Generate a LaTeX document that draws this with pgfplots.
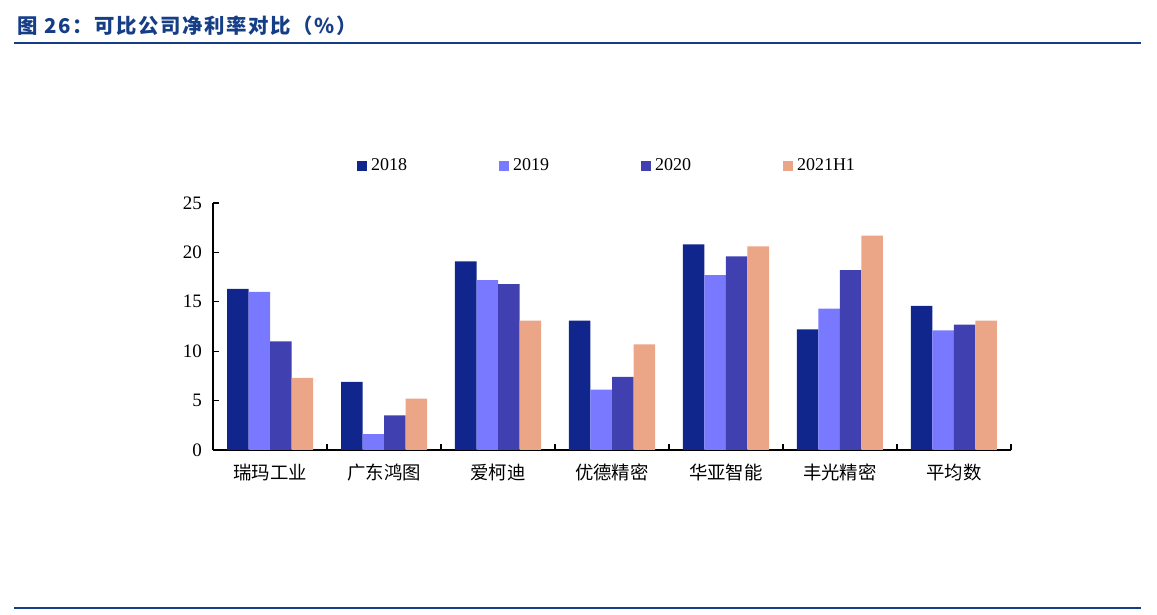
\documentclass[border=0pt]{standalone}
\usepackage{pgfplots}
\pgfplotsset{compat=1.18}
\usepackage{pgfplotstable}
\usepackage{fontspec}
\setmainfont{Liberation Serif}
\newfontfamily\cjk{Noto Sans CJK SC}
\newfontfamily\cjktitle[LetterSpace=8]{Noto Sans CJK SC}
\definecolor{c18}{RGB}{16,38,140}
\definecolor{c19}{RGB}{121,121,255}
\definecolor{c20}{RGB}{64,64,176}
\definecolor{c21}{RGB}{235,165,135}
\definecolor{titleblue}{RGB}{22,62,135}

\pgfplotstableread{
x  a    b    c    d
0  16.3 16.0 11.0 7.3
1  6.9  1.6  3.5  5.2
2  19.1 17.2 16.8 13.1
3  13.1 6.1  7.4  10.7
4  20.8 17.7 19.6 20.6
5  12.2 14.3 18.2 21.7
6  14.6 12.1 12.7 13.1
}\netmargin

\begin{document}
\begin{tikzpicture}
\useasboundingbox (0,0) rectangle (578.5pt,307.5pt);
\node[anchor=base west, inner sep=0, text=titleblue,
      font=\cjktitle\bfseries\fontsize{10.2}{12}\selectfont]
  at (8.5pt,290.5pt) {图 26：可比公司净利率对比（\%）};
\draw[titleblue, line width=1.1pt] (7pt,286pt) -- (570.5pt,286pt);
\draw[titleblue, line width=1.1pt] (7pt,3.5pt) -- (570.5pt,3.5pt);

\pgfplotsset{
  sq/.style={fill=#1, draw=none,
    legend image code/.code={\fill[fill=#1] (0pt,-2.5pt) rectangle (5pt,2.5pt);}},
}
\begin{axis}[
  at={(106.5pt,82.5pt)}, anchor=south west,
  scale only axis, width=399pt, height=123.5pt,
  ybar=0pt, bar width=10.75pt,
  xmin=-0.5, xmax=6.5, ymin=0, ymax=25,
  axis lines*=left,
  axis line style={line width=0.7pt},
  tick align=inside,
  tick style={black, line width=0.6pt},
  major tick length=3pt, minor tick length=3pt,
  xtick={0,...,6},
  xticklabels={瑞玛工业,广东鸿图,爱柯迪,优德精密,华亚智能,丰光精密,平均数},
  xticklabel style={font=\cjk\fontsize{9.2}{11}\selectfont, yshift=-3.5pt},
  major x tick style={draw=none},
  minor xtick={-0.5,0.5,...,6.5},
  ytick={0,5,...,25},
  yticklabel style={font=\fontsize{9.5}{11}\selectfont, xshift=-2pt},
  /pgf/number format/assume math mode=true,
  legend columns=4,
  legend style={at={(0.495,1.150)}, anchor=center, draw=none,
    font=\fontsize{9}{11}\selectfont,
    /tikz/every even column/.append style={column sep=44pt}},
]
\addplot[sq=c18] table[x=x,y=a] {\netmargin};
\addplot[sq=c19] table[x=x,y=b] {\netmargin};
\addplot[sq=c20] table[x=x,y=c] {\netmargin};
\addplot[sq=c21] table[x=x,y=d] {\netmargin};
\legend{2018,2019,2020,2021H1}
\end{axis}
\end{tikzpicture}
\end{document}
